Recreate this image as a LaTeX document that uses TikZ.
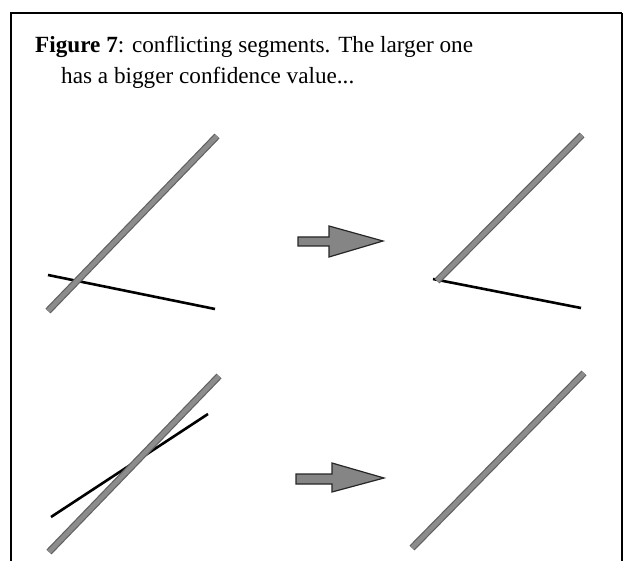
\documentclass[tikz,border=0pt]{standalone}
\usepackage{fontspec}
\setmainfont{Liberation Serif}
\begin{document}
\begin{tikzpicture}[x=1pt,y=-1pt,
  frameline/.style={line width=2.4pt, draw=black},
  thickseg/.style={line width=7pt, draw=black!62},
  thickin/.style={line width=4.6pt, draw=black!45},
  thinseg/.style={line width=2.6pt, draw=black},
  bigarrow/.style={fill=black!48, draw=black!85, line width=1.2pt, line join=miter},
  caption/.style={anchor=base west, inner sep=0pt, font=\fontsize{23.2}{27}\selectfont}]
\useasboundingbox (0,0) rectangle (626,561);
% frame
\coordinate (fbl) at (11,561);
\coordinate (ftl) at (11,13);
\coordinate (ftr) at (622,13);
\coordinate (fbr) at (622,561);
\draw[frameline] (fbl) -- (ftl) -- (ftr);
\draw[line width=1.6pt] (ftr) -- (fbr);
% caption
\node[caption] (cap1) at (35,53) {\textbf{Figure 7}: conflicting segments. The larger one};
\node[caption] (cap2) at (61,84) {has a bigger confidence value...};
% top-left
\coordinate (a1) at (48,311); \coordinate (a2) at (217,136);
\coordinate (b1) at (48,275); \coordinate (b2) at (215,309);
\draw[thinseg] (b1) -- (b2);
\draw[thickseg] (a1) -- (a2);
\draw[thickin] (a1) -- (a2);
% top-right
\coordinate (c1) at (437,281); \coordinate (c2) at (582,135);
\coordinate (d1) at (433,279); \coordinate (d2) at (581,308);
\draw[thinseg] (d1) -- (d2);
\draw[thickseg] (c1) -- (c2);
\draw[thickin] (c1) -- (c2);
% bottom-left
\coordinate (e1) at (49,552); \coordinate (e2) at (219,376);
\coordinate (f1) at (51,517); \coordinate (f2) at (208,414);
\draw[thinseg] (f1) -- (f2);
\draw[thickseg] (e1) -- (e2);
\draw[thickin] (e1) -- (e2);
% bottom-right
\coordinate (g1) at (412,548); \coordinate (g2) at (584,373);
\draw[thickseg] (g1) -- (g2);
\draw[thickin] (g1) -- (g2);
% arrows
\draw[bigarrow] (298,237) -- (329,237) -- (329,226) -- (383,241) -- (329,257) -- (329,246) -- (298,246) -- cycle;
\draw[bigarrow] (296,474) -- (332,474) -- (332,463) -- (384,478) -- (332,492) -- (332,484) -- (296,484) -- cycle;
\end{tikzpicture}
\end{document}
